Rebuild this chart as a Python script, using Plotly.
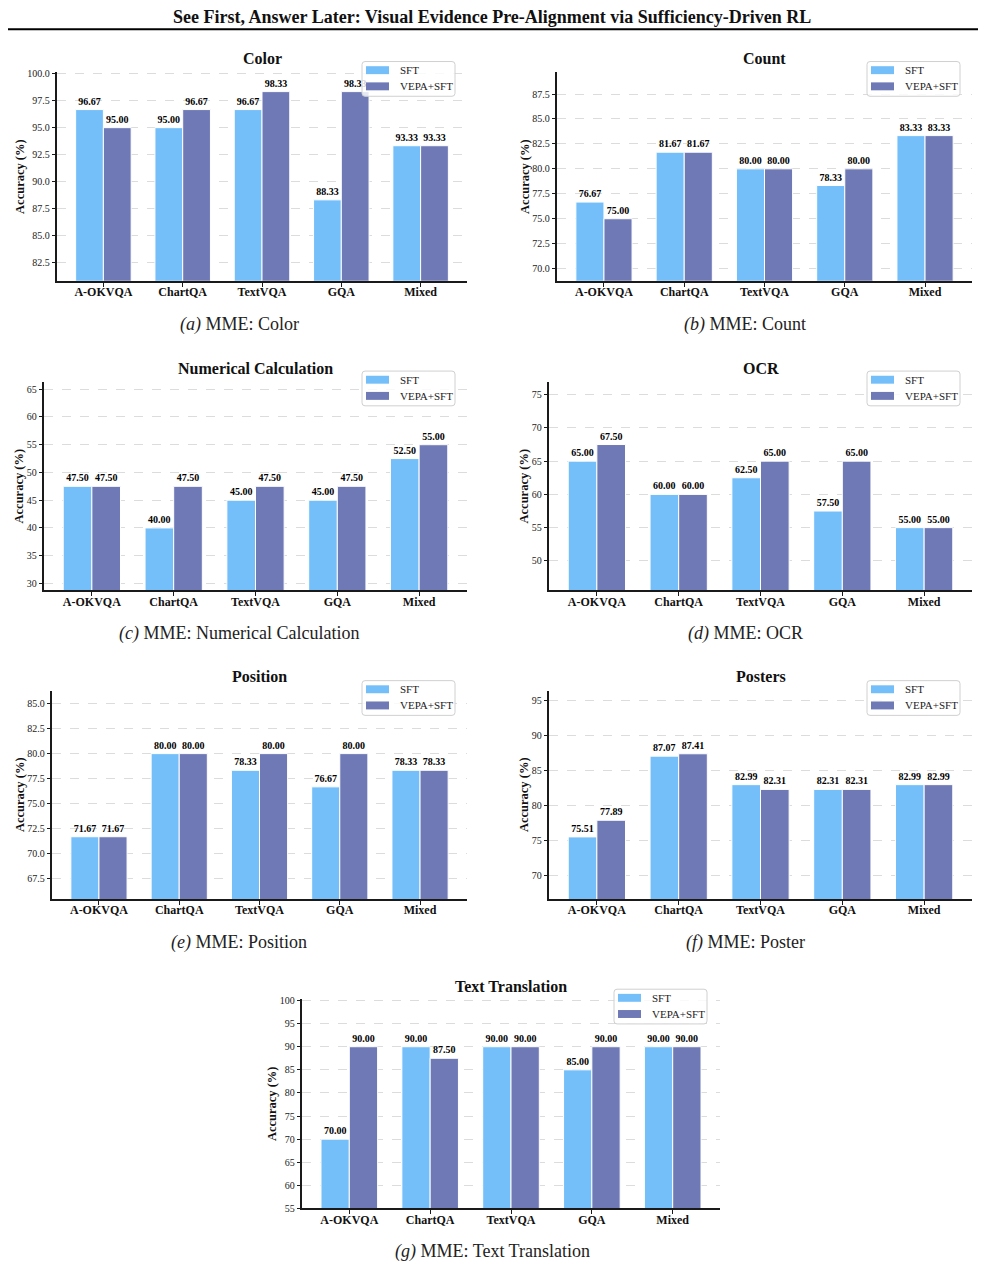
import plotly.graph_objects as go

W, H = 985, 1273

# ---------------- data ----------------
categories = ["A-OKVQA", "ChartQA", "TextVQA", "GQA", "Mixed"]
series_names = ["SFT", "VEPA+SFT"]

color_sft = [96.67, 95.00, 96.67, 88.33, 93.33]
color_vepa = [95.00, 96.67, 98.33, 98.33, 93.33]
count_sft = [76.67, 81.67, 80.00, 78.33, 83.33]
count_vepa = [75.00, 81.67, 80.00, 80.00, 83.33]
numcalc_sft = [47.50, 40.00, 45.00, 45.00, 52.50]
numcalc_vepa = [47.50, 47.50, 47.50, 47.50, 55.00]
ocr_sft = [65.00, 60.00, 62.50, 57.50, 55.00]
ocr_vepa = [67.50, 60.00, 65.00, 65.00, 55.00]
position_sft = [71.67, 80.00, 78.33, 76.67, 78.33]
position_vepa = [71.67, 80.00, 80.00, 80.00, 78.33]
posters_sft = [75.51, 87.07, 82.99, 82.31, 82.99]
posters_vepa = [77.89, 87.41, 82.31, 82.31, 82.99]
tt_sft = [70.00, 90.00, 90.00, 85.00, 90.00]
tt_vepa = [90.00, 87.50, 90.00, 90.00, 90.00]

color_ticks = [82.5, 85.0, 87.5, 90.0, 92.5, 95.0, 97.5, 100.0]
count_ticks = [70.0, 72.5, 75.0, 77.5, 80.0, 82.5, 85.0, 87.5]
numcalc_ticks = [30, 35, 40, 45, 50, 55, 60, 65]
ocr_ticks = [50, 55, 60, 65, 70, 75]
position_ticks = [67.5, 70.0, 72.5, 75.0, 77.5, 80.0, 82.5, 85.0]
posters_ticks = [70, 75, 80, 85, 90, 95]
tt_ticks = [55, 60, 65, 70, 75, 80, 85, 90, 95, 100]

panel_titles = ["Color", "Count", "Numerical Calculation", "OCR",
                "Position", "Posters", "Text Translation"]
caption_tags = ["(a)", "(b)", "(c)", "(d)", "(e)", "(f)", "(g)"]
caption_texts = ["MME: Color", "MME: Count", "MME: Numerical Calculation",
                 "MME: OCR", "MME: Position", "MME: Poster", "MME: Text Translation"]
main_title = "See First, Answer Later: Visual Evidence Pre-Alignment via Sufficiency-Driven RL"
y_label = "Accuracy (%)"

panel_data = [
    (color_sft, color_vepa, color_ticks, ".1f"),
    (count_sft, count_vepa, count_ticks, ".1f"),
    (numcalc_sft, numcalc_vepa, numcalc_ticks, "d"),
    (ocr_sft, ocr_vepa, ocr_ticks, "d"),
    (position_sft, position_vepa, position_ticks, ".1f"),
    (posters_sft, posters_vepa, posters_ticks, "d"),
    (tt_sft, tt_vepa, tt_ticks, "d"),
]

# ---------------- layout (pixel geometry) ----------------
# plot box (x0, x1, ytop, ybottom), y range, legend box (left, top), title y, caption (cx, cy)
panel_layout = [
    dict(box=(57, 467, 69, 279), yr=(80.85, 100.1), leg=(362, 58), ty=57, cap=(239, 323)),
    dict(box=(557, 972, 69, 279), yr=(68.78, 89.66), leg=(867, 58), ty=57, cap=(745, 323)),
    dict(box=(44, 467, 381, 591), yr=(28.75, 66.3), leg=(362, 370), ty=369, cap=(239, 634)),
    dict(box=(549, 972, 381, 591), yr=(45.57, 76.9), leg=(867, 370), ty=369, cap=(745, 634)),
    dict(box=(52, 467, 692, 902), yr=(65.44, 86.32), leg=(362, 682), ty=680, cap=(239, 946)),
    dict(box=(549, 972, 692, 902), yr=(66.63, 96.46), leg=(867, 682), ty=680, cap=(745, 946)),
    dict(box=(302, 720, 1003, 1214), yr=(55.0, 100.3), leg=(614, 993), ty=992, cap=(492, 1257)),
]

SERIF = "Liberation Serif, Times New Roman, Times, serif"
C_SFT = "#74BFFA"
C_VEPA = "#6E79B6"
SERIES_COLORS = [C_SFT, C_VEPA]
AXC = "#1a1a1a"


def px(x):
    return x / W


def py(y):
    return 1 - y / H


def rounded_rect_path(x0, y0, x1, y1, r):
    # pixel coords (y down) -> paper path with rounded corners
    pts = [
        f"M {px(x0 + r)},{py(y0)}",
        f"L {px(x1 - r)},{py(y0)}",
        f"Q {px(x1)},{py(y0)} {px(x1)},{py(y0 + r)}",
        f"L {px(x1)},{py(y1 - r)}",
        f"Q {px(x1)},{py(y1)} {px(x1 - r)},{py(y1)}",
        f"L {px(x0 + r)},{py(y1)}",
        f"Q {px(x0)},{py(y1)} {px(x0)},{py(y1 - r)}",
        f"L {px(x0)},{py(y0 + r)}",
        f"Q {px(x0)},{py(y0)} {px(x0 + r)},{py(y0)}",
        "Z",
    ]
    return " ".join(pts)


fig = go.Figure()
layout = dict(
    width=W, height=H, autosize=False,
    margin=dict(l=0, r=0, t=0, b=0),
    paper_bgcolor="white", plot_bgcolor="white",
    barmode="group", bargap=0.3, bargroupgap=0.0,
    font=dict(family=SERIF, color="#111"),
    showlegend=False,
)
annotations = []
shapes = []

for i, ((s1, s2, ticks, fmt), pl) in enumerate(zip(panel_data, panel_layout)):
    n = i + 1
    xa = "x" if n == 1 else f"x{n}"
    ya = "y" if n == 1 else f"y{n}"
    x0, x1, yt, yb = pl["box"]
    for vals, name, col in ((s1, series_names[0], C_SFT), (s2, series_names[1], C_VEPA)):
        fig.add_trace(go.Bar(
            x=categories, y=vals, name=name,
            xaxis=xa, yaxis=ya, showlegend=False,
            marker=dict(color=col, line=dict(color="white", width=1)),
            text=[f"<b>{v:.2f}</b>" for v in vals], textposition="outside",
            textfont=dict(family=SERIF, size=10, color="black"),
            outsidetextfont=dict(family=SERIF, size=10, color="black"),
            constraintext="none", cliponaxis=False,
            hoverinfo="skip",
        ))
    layout[f"xaxis{'' if n == 1 else n}"] = dict(
        domain=[px(x0), px(x1)], anchor=ya,
        type="category", range=[-0.585, 4.585],
        tickmode="array", tickvals=categories,
        ticktext=[f"<b>{c}</b>" for c in categories],
        showline=True, linecolor=AXC, linewidth=1.5,
        ticks="outside", ticklen=4, tickwidth=1, tickcolor=AXC,
        ticklabelstandoff=-5,
        tickfont=dict(family=SERIF, size=12, color="#111"),
        showgrid=False, zeroline=False, fixedrange=True,
    )
    layout[f"yaxis{'' if n == 1 else n}"] = dict(
        domain=[py(yb), py(yt)], anchor=xa,
        range=list(pl["yr"]),
        tickmode="array", tickvals=ticks, tickformat=fmt,
        showline=True, linecolor=AXC, linewidth=1.5,
        ticks="outside", ticklen=3.5, tickwidth=1, tickcolor=AXC,
        tickfont=dict(family=SERIF, size=10, color="#222"),
        showgrid=True, gridcolor="#dcdcdc", gridwidth=0.8, griddash="dash",
        zeroline=False, fixedrange=True,
        title=dict(text=f"<b>{y_label}</b>", standoff=0,
                   font=dict(family=SERIF, size=12.5, color="#111")),
    )
    # legend box (drawn above the bars)
    lx, ly = pl["leg"]
    shapes.append(dict(
        type="path", xref="paper", yref="paper", layer="above",
        path=rounded_rect_path(lx, ly, lx + 93, ly + 35, 3),
        fillcolor="rgba(255,255,255,0.82)", line=dict(color="#d0d0d0", width=1),
    ))
    for k, (nm, col) in enumerate(zip(series_names, SERIES_COLORS)):
        cy = ly + 8.7 + k * 16.3
        shapes.append(dict(
            type="rect", xref="paper", yref="paper", layer="above",
            x0=px(lx + 4), x1=px(lx + 27), y0=py(cy - 4), y1=py(cy + 4),
            fillcolor=col, line=dict(width=0),
        ))
        annotations.append(dict(
            text=nm, x=px(lx + 35.5), y=py(cy), xref="paper", yref="paper",
            xanchor="left", yanchor="middle", showarrow=False,
            font=dict(family=SERIF, size=11, color="#222"),
        ))
    # subplot title
    annotations.append(dict(
        text=f"<b>{panel_titles[i]}</b>", x=px((x0 + x1) / 2), y=py(pl["ty"] - 2),
        xref="paper", yref="paper", xanchor="center", yanchor="middle",
        showarrow=False, font=dict(family=SERIF, size=16, color="#111"),
    ))
    # caption
    cx, cy = pl["cap"]
    annotations.append(dict(
        text=f"<i>{caption_tags[i]}</i> {caption_texts[i]}", x=px(cx), y=py(cy),
        xref="paper", yref="paper", xanchor="center", yanchor="middle",
        showarrow=False, font=dict(family=SERIF, size=18, color="#222"),
    ))

# main header
annotations.append(dict(
    text=f"<b>{main_title}</b>", x=px(492), y=py(13),
    xref="paper", yref="paper", xanchor="center", yanchor="middle",
    showarrow=False, font=dict(family=SERIF, size=18, color="#111"),
))
shapes.append(dict(type="line", xref="paper", yref="paper",
                   x0=px(8), x1=px(978), y0=py(25.5), y1=py(25.5),
                   line=dict(color="black", width=2)))

layout["annotations"] = annotations
layout["shapes"] = shapes
fig.update_layout(**layout)
fig.write_html("out.html")
